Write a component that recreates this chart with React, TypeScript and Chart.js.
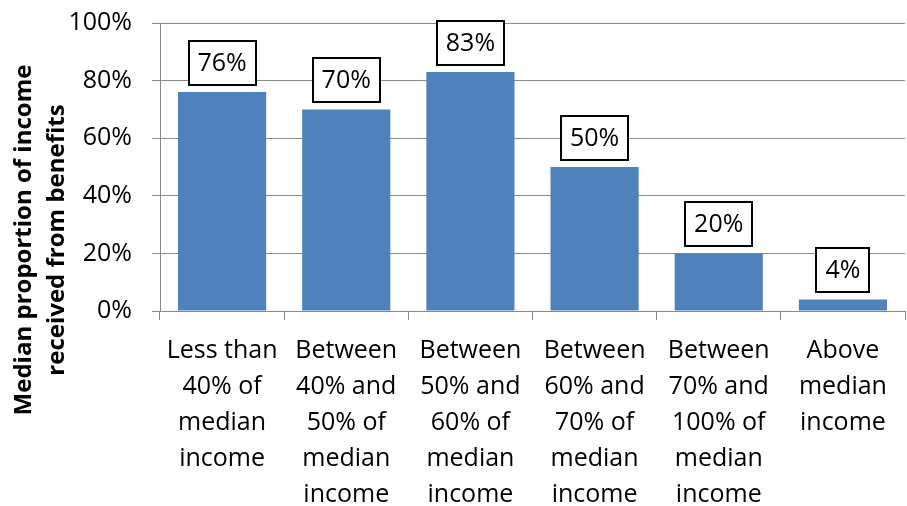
import React, { useEffect, useRef } from "react";
import { Chart, registerables } from "chart.js";

Chart.register(...registerables);

const categories: string[][] = [
  ["Less than", "40% of", "median", "income"],
  ["Between", "40% and", "50% of", "median", "income"],
  ["Between", "50% and", "60% of", "median", "income"],
  ["Between", "60% and", "70% of", "median", "income"],
  ["Between", "70% and", "100% of", "median", "income"],
  ["Above", "median", "income"],
];
const values: number[] = [76, 70, 83, 50, 20, 4];
const yTicks: number[] = [0, 20, 40, 60, 80, 100];
const yTitle: string[] = ["Median proportion of income", "received from benefits"];

const FONT = '"Open Sans", "DejaVu Sans", sans-serif';
const GRID = "#8a8a8a";
const BAR = "#4F81BD";

const boxLabels = {
  id: "boxLabels",
  afterDatasetsDraw(chart: any) {
    const ctx = chart.ctx;
    const meta = chart.getDatasetMeta(0);
    ctx.save();
    ctx.font = `25px ${FONT}`;
    ctx.textAlign = "center";
    ctx.textBaseline = "middle";
    meta.data.forEach((bar: any, i: number) => {
      const text = values[i] + "%";
      const w = Math.round(ctx.measureText(text).width + 18);
      const h = 44;
      const bottom = Math.round(bar.y - 7);
      const left = Math.round(bar.x - w / 2);
      ctx.fillStyle = "#ffffff";
      ctx.fillRect(left, bottom - h, w, h);
      ctx.lineWidth = 2;
      ctx.strokeStyle = "#000000";
      ctx.strokeRect(left, bottom - h, w, h);
      ctx.fillStyle = "#000000";
      ctx.fillText(text, bar.x, bottom - h / 2 + 1);
    });
    ctx.restore();
  },
};

const axisTitle = {
  id: "axisTitle",
  afterDraw(chart: any) {
    const ctx = chart.ctx;
    ctx.save();
    ctx.font = `bold 24px ${FONT}`;
    ctx.fillStyle = "#000000";
    ctx.textAlign = "center";
    ctx.textBaseline = "alphabetic";
    const baselines = [31, 64];
    yTitle.forEach((line, i) => {
      ctx.save();
      ctx.translate(baselines[i], 240);
      ctx.rotate(-Math.PI / 2);
      ctx.fillText(line, 0, 0);
      ctx.restore();
    });
    ctx.restore();
  },
};

export default function App() {
  const ref = useRef<HTMLCanvasElement | null>(null);
  useEffect(() => {
    if (!ref.current) return;
    const chart = new Chart(ref.current, {
      type: "bar",
      data: {
        labels: categories,
        datasets: [
          {
            data: values,
            backgroundColor: BAR,
            borderWidth: 0,
            barPercentage: 0.71,
            categoryPercentage: 1,
          },
        ],
      },
      options: {
        animation: false,
        responsive: true,
        maintainAspectRatio: false,
        layout: { padding: { top: 23, right: 2, left: 0, bottom: 0 } },
        plugins: {
          legend: { display: false },
          tooltip: { enabled: false },
        },
        scales: {
          x: {
            grid: {
              display: true,
              drawOnChartArea: false,
              drawTicks: true,
              tickLength: 9,
              color: GRID,
              offset: true,
            },
            border: { display: true, color: GRID, width: 1 },
            ticks: {
              color: "#000000",
              font: { family: FONT, size: 25, lineHeight: 1.44 },
              padding: 13,
              maxRotation: 0,
              autoSkip: false,
            },
            afterFit(scale: any) {
              scale.height = 195;
            },
          },
          y: {
            min: 0,
            max: 100,
            grid: {
              color: GRID,
              tickLength: 8,
              drawTicks: true,
            },
            border: { display: true, color: GRID, width: 1 },
            afterBuildTicks(scale: any) {
              scale.ticks = yTicks.map((v) => ({ value: v }));
            },
            ticks: {
              color: "#000000",
              font: { family: FONT, size: 25 },
              padding: 20,
              callback: (v: any) => v + "%",
            },
            afterFit(scale: any) {
              scale.width = 160;
              scale.paddingTop = 0;
              scale.paddingBottom = 0;
            },
          },
        },
      },
      plugins: [boxLabels, axisTitle],
    });
    return () => chart.destroy();
  }, []);
  return (
    <div style={{ position: "absolute", left: 0, top: 0, width: 907, height: 506, background: "#fff" }}>
      <canvas ref={ref} />
    </div>
  );
}
